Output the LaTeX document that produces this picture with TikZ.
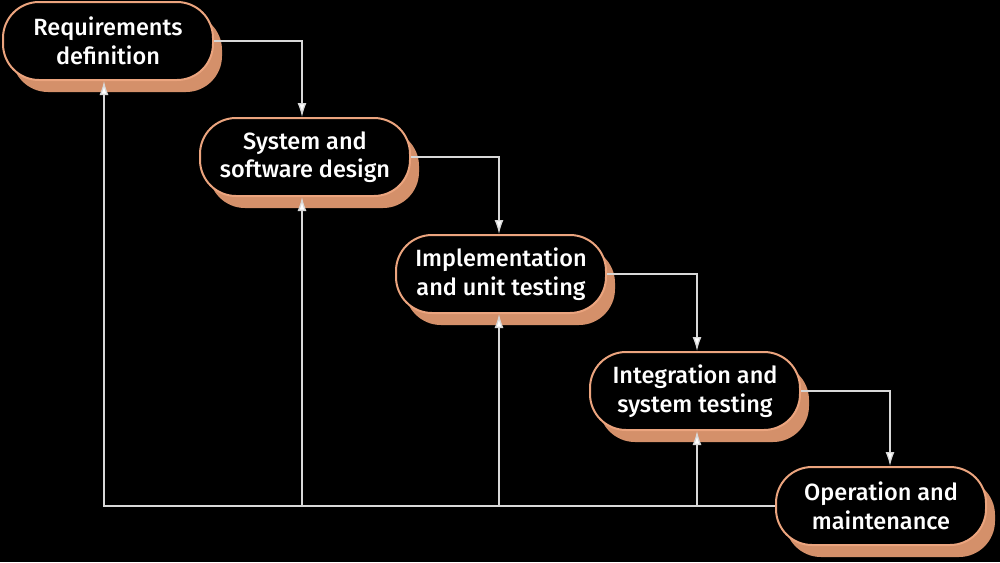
\documentclass[tikz,border=0pt]{standalone}
\usepackage{fontspec}
\setmainfont{Fira Sans}[UprightFont=* Medium]
\usetikzlibrary{arrows.meta,shadows}
\definecolor{salmon}{HTML}{EBA47E}
\definecolor{shade}{HTML}{D4906A}
\definecolor{linegray}{HTML}{D8D8D8}
\tikzset{
  phase/.style={draw=salmon, line width=2pt, fill=black, text=white,
    rounded corners=36pt, minimum width=210pt, minimum height=78pt,
    align=center, font=\fontsize{23.5}{28.5}\selectfont, inner sep=2pt,
    drop shadow={shadow xshift=9pt, shadow yshift=-12pt, fill=shade, opacity=1}},
  flow/.style={draw=linegray, line width=1.3pt, -{Latex[length=14pt,width=9pt,fill=white]}}
}
\begin{document}
\begin{tikzpicture}[x=1pt,y=-1pt]
\useasboundingbox (0,0) rectangle (1000,562);
\fill[black] (0,0) rectangle (1000,562);
\node[phase] (b1) at (108,41) {Requirements\\definition};
\node[phase] (b2) at (305,157) {System and\\software design};
\node[phase] (b3) at (501,274) {Implementation\\and unit testing};
\node[phase] (b4) at (695,391) {Integration and\\system testing};
\node[phase] (b5) at (881,506) {Operation and\\maintenance};
\coordinate (c1) at (104,0);
\coordinate (c2) at (302,0);
\coordinate (c3) at (499,0);
\coordinate (c4) at (697,0);
\coordinate (c5) at (890,0);
\draw[flow] (b1.east) -| (c2 |- b2.north);
\draw[flow] (b2.east) -| (c3 |- b3.north);
\draw[flow] (b3.east) -| (c4 |- b4.north);
\draw[flow] (b4.east) -| (c5 |- b5.north);
\draw[flow] (b5.west) -| (c1 |- b1.south);
\draw[flow] (c2 |- b5.west) -- (c2 |- b2.south);
\draw[flow] (c3 |- b5.west) -- (c3 |- b3.south);
\draw[flow] (c4 |- b5.west) -- (c4 |- b4.south);
\end{tikzpicture}
\end{document}
